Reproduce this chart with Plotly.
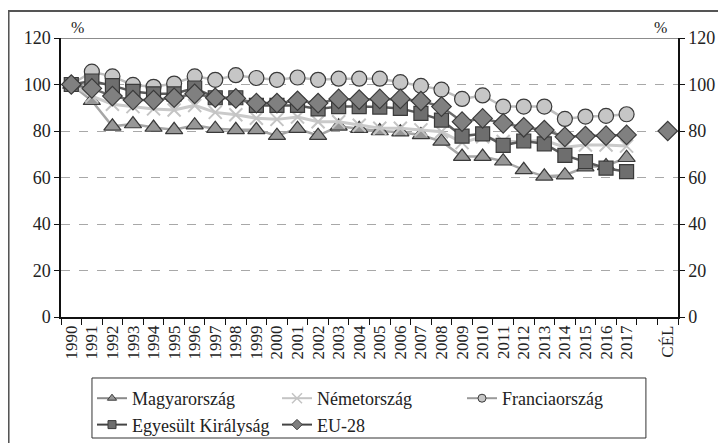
import plotly.graph_objects as go

years = [str(y) for y in range(1990, 2018)]
categories = years + [" ", "CÉL"]

hungary = [100, 93, 82, 83, 81.5, 80.5, 82.5, 81, 80.5, 80.5, 78, 81, 78, 82, 81, 80,
           79.5, 78.3, 75.5, 69, 69, 67, 63.3, 60.5, 61, 64.5, 65, 68.5]
germany = [100, 95, 91.5, 90.5, 89.5, 89, 91, 88, 87, 85.5, 85, 86, 84, 84, 82.5, 81.2,
           81.2, 80.5, 79.7, 75, 77.5, 75.5, 75.5, 76, 73, 74, 74, 73.5]
france = [100, 105.5, 103.5, 99.8, 99, 100.4, 103.5, 102, 104, 102.8, 102, 103, 102, 102.5,
          102.5, 102.5, 101, 99.4, 97.8, 93.8, 95.3, 90.5, 90.5, 90.5, 85.2, 86.2, 86.5, 87.2]
uk = [100, 101.5, 99.5, 97, 96, 96, 98.5, 94.3, 94.3, 91, 91, 91, 89.5, 90.5, 90.5, 90.3,
      89.7, 87.6, 84.7, 77.8, 78.8, 73.8, 75.7, 74.5, 69.5, 66.8, 64, 62.5]
eu28 = [100, 98.3, 95, 93.3, 93.3, 94.3, 96, 94.3, 94, 92, 92, 93, 92, 93.8, 93.5, 93.8,
        93.8, 92.9, 90.5, 84, 85.4, 83.3, 81.6, 80.4, 77.5, 77.8, 78, 78.3]
target_label = ["CÉL"]
eu_target = [80]

names = ["Magyarország", "Németország", "Franciaország", "Egyesült Királyság", "EU-28"]
yticks = [0, 20, 40, 60, 80, 100, 120]

FONT = "Liberation Serif"
TXT = "#222222"
OUT = "#3a3a3a"

styles = [
    dict(line=dict(color="#a6a6a6", width=2.5), symbol="triangle-up", size=15,
         fill="#979797", mline=dict(color=OUT, width=1.2), lline="#8a8a8a"),
    dict(line=dict(color="#cacaca", width=3), symbol="x-thin", size=13,
         fill="#c4c4c4", mline=dict(color="#c4c4c4", width=2), lline="#c4c4c4"),
    dict(line=dict(color="#bdbdbd", width=2.5), symbol="circle", size=15,
         fill="#c6c6c6", mline=dict(color=OUT, width=1.2), lline="#9a9a9a"),
    dict(line=dict(color="#5a5a5a", width=2.5), symbol="square", size=14,
         fill="#6e6e6e", mline=dict(color=OUT, width=1.2), lline="#444444"),
    dict(line=dict(color="#6a6a6a", width=2.5), symbol="diamond", size=15,
         fill="#808080", mline=dict(color=OUT, width=1.2), lline="#444444"),
]
series = [hungary, germany, france, uk, eu28]

fig = go.Figure()

for name, vals, st in zip(names, series, styles):
    fig.add_trace(go.Scatter(
        x=years, y=vals, name=name, mode="lines+markers", showlegend=False,
        line=st["line"],
        marker=dict(symbol=st["symbol"], size=st["size"], color=st["fill"], line=st["mline"])))

st = styles[4]
fig.add_trace(go.Scatter(
    x=target_label, y=eu_target, name=names[4], mode="markers", showlegend=False,
    marker=dict(symbol=st["symbol"], size=st["size"], color=st["fill"], line=st["mline"])))

# legend entries with small symbols
for name, st in zip(names, styles):
    fig.add_trace(go.Scatter(
        x=[None], y=[None], name=name, mode="lines+markers",
        line=dict(color=st["lline"], width=2),
        marker=dict(symbol=st["symbol"], size=8 if st["symbol"] != "x-thin" else 10,
                    color=st["fill"],
                    line=dict(color=st["mline"]["color"], width=1 if st["symbol"] != "x-thin" else 1.5))))

# invisible trace for the right axis
fig.add_trace(go.Scatter(x=[years[0]], y=[0], yaxis="y2", mode="markers",
                         marker=dict(opacity=0), showlegend=False, hoverinfo="skip"))

fig.update_layout(
    width=726, height=443,
    margin=dict(l=53, r=56, t=30, b=134, autoexpand=False),
    paper_bgcolor="white", plot_bgcolor="white",
    font=dict(family=FONT, color=TXT, size=16),
    xaxis=dict(
        type="category", categoryorder="array", categoryarray=categories,
        range=[-0.5, len(categories) - 0.5],
        tickson="boundaries", ticks="outside", ticklen=6, tickcolor="#111",
        tickangle=-90, tickfont=dict(size=17, family=FONT, color=TXT),
        showline=True, linecolor="#111", linewidth=1.5, showgrid=False,
    ),
    yaxis=dict(
        range=[0, 120], tickvals=yticks, ticks="outside", ticklen=5, tickcolor="#111",
        showline=True, linecolor="#111", linewidth=1.5,
        showgrid=True, gridcolor="#a8a8a8", griddash="dash", gridwidth=1,
        zeroline=False, tickfont=dict(size=18, family=FONT, color=TXT),
    ),
    yaxis2=dict(
        range=[0, 120], tickvals=yticks, overlaying="y", side="right",
        ticks="outside", ticklen=5, tickcolor="#111",
        showline=True, linecolor="#111", linewidth=1.5, showgrid=False, zeroline=False,
        tickfont=dict(size=18, family=FONT, color=TXT),
    ),
    showlegend=True,
    legend=dict(
        orientation="h", xref="container", yref="container",
        x=84 / 726, y=1 - 372 / 443, xanchor="left", yanchor="top",
        borderwidth=0, bgcolor="rgba(0,0,0,0)",
        font=dict(size=18, family=FONT, color=TXT),
        entrywidth=140, entrywidthmode="pixels", traceorder="normal",
    ),
    shapes=[
        dict(type="line", xref="paper", yref="y", x0=0, x1=1, y0=120, y1=120,
             line=dict(color="#666", width=1.5)),
        dict(type="rect", xref="paper", yref="paper", x0=-0.085, x1=1.2, y0=-0.6, y1=1.097,
             line=dict(color="#555", width=2)),
        dict(type="rect", xref="paper", yref="paper", x0=0.0502, x1=0.948,
             y0=-0.4337, y1=-0.2186, line=dict(color="#333", width=1)),
    ],
    annotations=[
        dict(text="%", xref="paper", yref="paper", x=0.026, y=1.036, showarrow=False,
             font=dict(size=16, family=FONT, color=TXT), xanchor="center", yanchor="middle"),
        dict(text="%", xref="paper", yref="paper", x=0.971, y=1.036, showarrow=False,
             font=dict(size=16, family=FONT, color=TXT), xanchor="center", yanchor="middle"),
    ],
)

fig.write_html("out.html")
